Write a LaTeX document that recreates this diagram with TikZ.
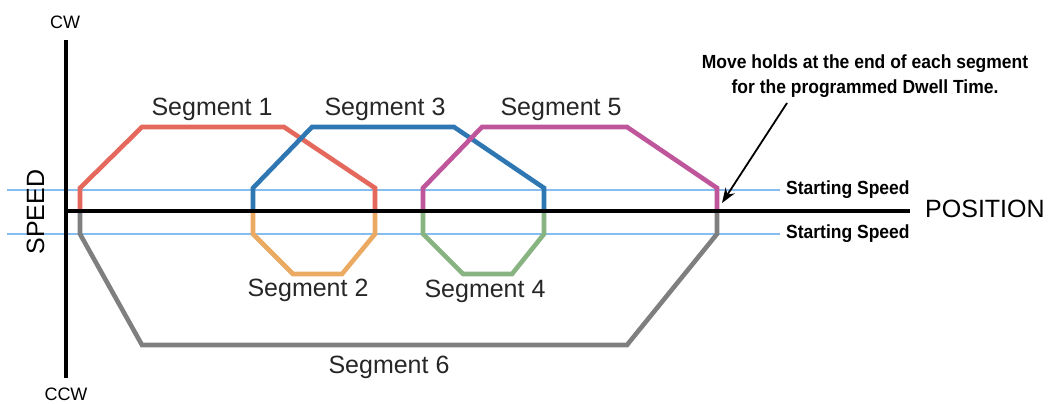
\documentclass[tikz,border=0pt]{standalone}
\usepackage{fontspec}
\setmainfont{Liberation Sans}
\usetikzlibrary{arrows.meta}
\definecolor{segred}{HTML}{E4685B}
\definecolor{segorange}{HTML}{EBAA62}
\definecolor{segblue}{HTML}{2F77B2}
\definecolor{seggreen}{HTML}{88B482}
\definecolor{segmag}{HTML}{BF559B}
\definecolor{seggray}{HTML}{7F7F7F}
\definecolor{startblue}{HTML}{86BDEE}
\begin{document}
\begin{tikzpicture}[x=1pt,y=-1pt,
  seg/.style={line width=4.6pt, line join=miter},
  axisline/.style={line width=4pt, black},
  startline/.style={line width=2.4pt, startblue},
  seglabel/.style={inner sep=0pt, anchor=base, font=\fontsize{25}{30}\selectfont, text=black!85},
  axlabel/.style={inner sep=0pt, anchor=base, font=\fontsize{18}{22}\selectfont},
  boldlabel/.style={inner sep=0pt, font=\fontsize{19}{23}\selectfont\bfseries}]
\useasboundingbox (0,0) rectangle (1052,404);

% starting speed lines
\draw[startline] (7,190) -- (780,190);
\draw[startline] (7,234) -- (780,234);

% segments
\draw[seg, seggray] (80,211) -- (80,234) -- (142,345) -- (627,345) -- (717,234) -- (717,211);
\draw[seg, segred] (80,211) -- (80,188) -- (142,127) -- (284,127) -- (375,188) -- (375,211);
\draw[seg, segorange] (375,211) -- (375,234) -- (342,274) -- (293,274) -- (253,234) -- (253,211);
\draw[seg, segblue] (253,211) -- (253,188) -- (312,127) -- (454,127) -- (544,188) -- (544,211);
\draw[seg, seggreen] (544,211) -- (544,234) -- (512,274) -- (463,274) -- (423,234) -- (423,211);
\draw[seg, segmag] (423,211) -- (423,188) -- (482,127) -- (627,127) -- (717,188) -- (717,211);

% axes
\draw[axisline] (66,40) -- (66,378);
\draw[axisline] (66,211) -- (910,211);

% labels
\node[seglabel] (s1) at (212,115) {Segment 1};
\node[seglabel] (s3) at (385,115) {Segment 3};
\node[seglabel] (s5) at (561,115) {Segment 5};
\node[seglabel] (s2) at (308,296) {Segment 2};
\node[seglabel] (s4) at (485,297) {Segment 4};
\node[seglabel] (s6) at (389,373) {Segment 6};

\node[axlabel] (cw) at (65,29) {CW};
\node[axlabel] (ccw) at (66,400) {CCW};
\node[seglabel, rotate=90, text=black] (speed) at (44,212) {SPEED};
\node[seglabel, anchor=base west, text=black] (pos) at (925,217) {POSITION};

\node[boldlabel, anchor=base west] (ss1) at (786,194) {\scalebox{0.92}[1]{Starting Speed}};
\node[boldlabel, anchor=base west] (ss2) at (786,238) {\scalebox{0.92}[1]{Starting Speed}};

\node[boldlabel, anchor=base] (note1) at (865,69) {\scalebox{0.92}[1]{Move holds at the end of each segment}};
\node[boldlabel, anchor=base] (note2) at (865,93) {\scalebox{0.92}[1]{for the programmed Dwell Time.}};

\coordinate (arrstart) at (787,103);
\coordinate (arrtip) at (722,203);
\draw[line width=1.8pt, -{Stealth[length=15pt,width=11pt]}] (arrstart) -- (arrtip);
\end{tikzpicture}
\end{document}
